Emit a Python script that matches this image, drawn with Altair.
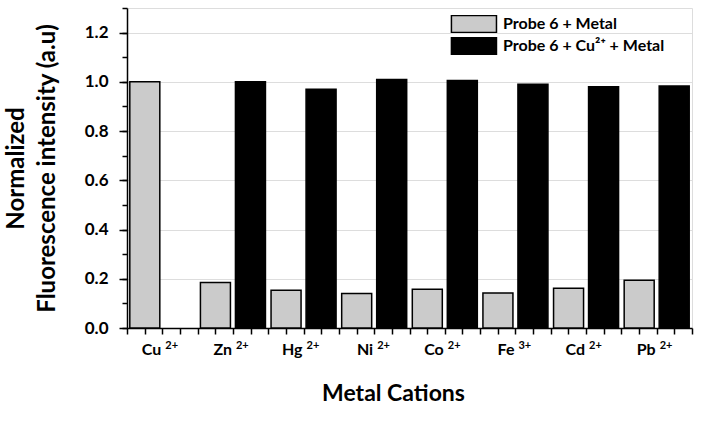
import altair as alt
import pandas as pd

metals = ["Cu", "Zn", "Hg", "Ni", "Co", "Fe", "Cd", "Pb"]
charges = ["2+", "2+", "2+", "2+", "2+", "3+", "2+", "2+"]
probe_metal = [1.00, 0.185, 0.153, 0.140, 0.157, 0.142, 0.161, 0.194]
probe_cu_metal = [None, 1.00, 0.970, 1.010, 1.005, 0.990, 0.980, 0.983]
series = ["Probe 6 + Metal", "Probe 6 + Cu\u00b2\u207a + Metal"]
colors = ["#cbcbcb", "#000000"]
y_major = [0.0, 0.2, 0.4, 0.6, 0.8, 1.0, 1.2]
y_minor = [round(i * 0.1, 1) for i in range(14)]
x_minor = [i * 0.25 for i in range(33)]

labels = [m + " " + c for m, c in zip(metals, charges)]
rows = []
for lab, a, b in zip(labels, probe_metal, probe_cu_metal):
    rows.append({"label": lab, "series": series[0], "value": a})
    if b is not None:
        rows.append({"label": lab, "series": series[1], "value": b})
df = pd.DataFrame(rows)

FONT = "Lato"
W, H = 565, 320
xscale = alt.Scale(domain=labels, paddingInner=0, paddingOuter=0)
yscale = alt.Scale(domain=[0, 1.3], nice=False, zero=True)

bars = alt.Chart(df).mark_bar(stroke="black", strokeWidth=1.5).encode(
    x=alt.X("label:N", sort=labels, scale=xscale,
            axis=alt.Axis(title="Metal Cations", labelExpr="split(datum.value, ' ')[0]",
                          labelAlign="right", labelAngle=0, labelOffset=-1,
                          labelFont=FONT, labelFontWeight="bold",
                          labelFontSize=16, labelPadding=13, labelBaseline="top",
                          ticks=False, tickSize=0, domain=False,
                          titleFont=FONT, titleFontWeight="bold",
                          titleFontSize=23, titlePadding=25, titleX=266)),
    xOffset=alt.XOffset("series:N", sort=series,
                        scale=alt.Scale(domain=series, paddingInner=0.143, paddingOuter=0.08)),
    y=alt.Y("value:Q", scale=yscale,
            axis=alt.Axis(values=y_major, format=".1f", tickSize=8, tickWidth=1.5,
                          tickColor="black", labelFont=FONT, labelFontWeight="bold",
                          labelFontSize=17, labelPadding=11,
                          domain=False,
                          title=["Normalized", "Fluorescence intensity (a.u)"],
                          titleFont=FONT, titleFontWeight="bold",
                          titleFontSize=24, titlePadding=25, titleLineHeight=31)),
    color=alt.Color("series:N", sort=series,
                    scale=alt.Scale(domain=series, range=colors),
                    legend=alt.Legend(title=None, orient="none", legendX=323, legendY=7,
                                      symbolType="M-0.95,-1H4.35V1H-0.95Z", symbolSize=289,
                                      symbolStrokeColor="black", symbolStrokeWidth=1.5,
                                      symbolOpacity=1, labelFontSize=16, labelFont=FONT,
                                      labelFontWeight="bold", labelOffset=34, rowPadding=4,
                                      clipHeight=18,
                                      labelLimit=0, padding=0, labelColor="black")),
)

sup = alt.Chart(df).mark_bar(opacity=0).encode(
    x=alt.X("label:N", sort=labels, scale=xscale,
            axis=alt.Axis(title=None, orient="bottom", labelExpr="split(datum.value, ' ')[1]",
                          labelAlign="left", labelAngle=0, labelOffset=3,
                          labelFont=FONT, labelFontWeight="bold",
                          labelFontSize=11, labelPadding=11, labelBaseline="top",
                          ticks=False, tickSize=0, domain=False)),
    y=alt.Y("value:Q", scale=yscale, axis=None),
)

ticks = alt.Chart(df).mark_point(opacity=0).encode(
    x=alt.X("value:Q", scale=alt.Scale(domain=[0, 8], nice=False, zero=True),
            axis=alt.Axis(title=None, orient="bottom", values=x_minor, labels=False,
                          tickSize=6, tickWidth=1.5, tickColor="black",
                          domain=True, domainColor="black", domainWidth=1.5)),
    y=alt.Y("value:Q", scale=yscale,
            axis=alt.Axis(title=None, orient="left", values=y_minor, labels=False,
                          tickSize=5, tickWidth=1.5, tickColor="black",
                          domain=True, domainColor="black", domainWidth=1.5)),
)

chart = alt.layer(bars, sup, ticks).resolve_scale(x="independent", y="independent").properties(
    width=W, height=H,
    autosize=alt.AutoSizeParams(type="none"),
    padding={"left": 127, "top": 8, "right": 12, "bottom": 96},
).configure_view(stroke=None).configure_axis(
    labelColor="black", titleColor="black", grid=False,
).configure(background="white")

chart.save("out.html", embed_options={"renderer": "svg", "actions": False})
